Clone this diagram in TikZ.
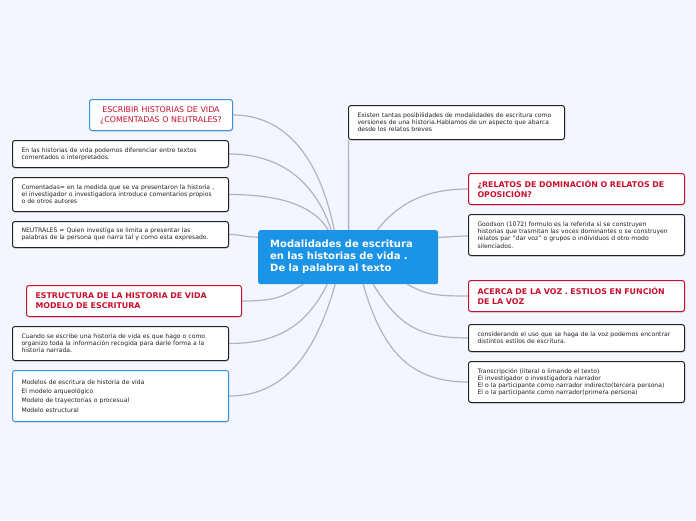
\documentclass[tikz,border=0pt]{standalone}
\usepackage{fontspec}
\setmainfont{DejaVu Sans}
\usetikzlibrary{shadows,backgrounds}
\definecolor{mapbg}{RGB}{243,246,254}
\definecolor{mapblue}{RGB}{27,147,230}
\definecolor{mapframe}{RGB}{61,143,224}
\definecolor{mapred}{RGB}{200,16,46}
\definecolor{mapink}{RGB}{34,34,34}
\definecolor{maplink}{RGB}{176,180,190}

\begin{document}
\begin{tikzpicture}[
    x=1pt, y=-1pt,
    base/.style={anchor=north west, rounded corners=2.5pt, fill=white, line width=1pt,
      drop shadow={opacity=0.25, shadow xshift=0.6pt, shadow yshift=-1.2pt}},
    note/.style={base, draw=mapink, text=mapink, align=left, inner xsep=9pt, inner ysep=2pt,
      font=\fontsize{6.1}{7.2}\selectfont},
    title/.style={base, draw=mapred, text=mapred, align=left, inner xsep=9pt, inner ysep=2pt,
      font=\fontsize{7.9}{10}\selectfont\bfseries},
    root/.style={anchor=north west, rounded corners=2.5pt, fill=mapblue, text=white, align=left,
      inner xsep=12pt, font=\fontsize{10}{12}\selectfont\bfseries},
    link/.style={draw=maplink, line width=1.2pt}
  ]
  \useasboundingbox (0,0) rectangle (696,520);

  % centre
  \node[root, text width=156pt, minimum height=54pt] (c) at (258,230)
    {Modalidades de escritura\\en las historias de vida .\\De la palabra al texto};

  % left side
  \node[base, draw=mapframe, text=mapred, align=center, text width=131pt, minimum height=31pt,
    inner xsep=6pt, font=\fontsize{7.9}{10}\selectfont] (esc) at (89,99)
    {ESCRIBIR HISTORIAS DE VIDA\\¿COMENTADAS O NEUTRALES?};
  \node[note, text width=198pt, minimum height=27pt] (dif) at (12,140)
    {En las historias de vida podemos diferenciar entre textos\\comentados o interpretados.};
  \node[note, text width=198pt, minimum height=34pt] (com) at (12,177)
    {Comentadas= en la medida que se va presentaron la historia ,\\el investigador o investigadora introduce comentarios propios\\o de otros autores};
  \node[note, text width=198pt, minimum height=26pt] (neu) at (12,221)
    {NEUTRALES = Quien investiga se limita a presentar las\\palabras de la persona que narra tal y como esta expresado.};
  \node[title, text width=197pt, minimum height=31pt] (est) at (26,285)
    {ESTRUCTURA DE LA HISTORIA DE VIDA\\MODELO DE ESCRITURA};
  \node[note, text width=198pt, minimum height=34pt] (cua) at (12,326)
    {Cuando se escribe una historia de vida es que hago o como\\organizo toda la información recogida para darle forma a la\\historia narrada.};
  \node[note, draw=mapframe, text width=198pt, minimum height=51pt,
    font=\fontsize{6.1}{9.4}\selectfont] (mod) at (12,370)
    {Modelos de escritura de historia de vida\\El modelo arqueológico\\Modelo de trayectorias o procesual\\Modelo estructural};

  % right side
  \node[note, text width=198pt, minimum height=34pt] (exi) at (348,105)
    {Existen tantas posibilidades de modalidades de escritura como\\versiones de una historia.Hablamos de un aspecto que abarca\\desde los relatos breves};
  \node[title, text width=198pt, minimum height=31pt] (rel) at (468,173)
    {¿RELATOS DE DOMINACIÓN O RELATOS DE\\OPOSICIÓN?};
  \node[note, text width=198pt, minimum height=41pt] (goo) at (468,214)
    {Goodson (1072) formulo es la referida si se construyen\\historias que trasmitan las voces dominantes o se construyen\\relatos par "dar voz" o grupos o individuos d otro modo\\silenciados.};
  \node[title, text width=198pt, minimum height=31pt] (ace) at (468,280)
    {ACERCA DE LA VOZ . ESTILOS EN FUNCIÓN\\DE LA VOZ};
  \node[note, text width=198pt, minimum height=27pt] (con) at (468,324)
    {considerando el uso que se haga de la voz podemos encontrar\\distintos estilos de escritura.};
  \node[note, text width=198pt, minimum height=41pt] (tra) at (468,361)
    {Transcripción (literal o limando el texto)\\El investigador o investigadora narrador\\El o la participante como narrador indirecto(tercera persona)\\El o la participante como narrador(primera persona)};

  % links, under the boxes
  \begin{pgfonlayer}{background}
  \fill[mapbg] (0,0) rectangle (696,520);
  \draw[link] ([xshift=-14pt]c.north) .. controls +(-12,-60) and +(60,0) .. (esc.east);
  \draw[link] ([xshift=-17pt]c.north) .. controls +(-15,-45) and +(55,0) .. (dif.east);
  \draw[link] ([xshift=-20pt]c.north) .. controls +(-15,-25) and +(50,0) .. (com.east);
  \draw[link] ([yshift=20pt]c.west) .. controls +(-12,0) and +(12,0) .. (neu.east);
  \draw[link] ([xshift=-45pt]c.south) .. controls +(-20,12) and +(35,0) .. (est.east);
  \draw[link] ([xshift=-21pt]c.south) .. controls +(-20,40) and +(50,0) .. (cua.east);
  \draw[link] ([xshift=-13pt]c.south) .. controls +(-20,70) and +(55,0) .. (mod.east);
  \draw[link, line width=1.4pt] ([xshift=0.5pt]c.north) -- ([xshift=0.5pt]exi.south west);
  \draw[link] ([xshift=29pt]c.north) .. controls +(20,-25) and +(-45,0) .. (rel.west);
  \draw[link] ([yshift=20pt]c.east) .. controls +(12,0) and +(-12,0) .. ([yshift=-1pt]goo.west);
  \draw[link] ([xshift=59pt]c.south) .. controls +(20,10) and +(-35,0) .. (ace.west);
  \draw[link] ([xshift=25pt]c.south) .. controls +(25,40) and +(-50,0) .. (con.west);
  \draw[link] ([xshift=15pt]c.south) .. controls +(20,70) and +(-55,0) .. (tra.west);
  \end{pgfonlayer}
\end{tikzpicture}
\end{document}
